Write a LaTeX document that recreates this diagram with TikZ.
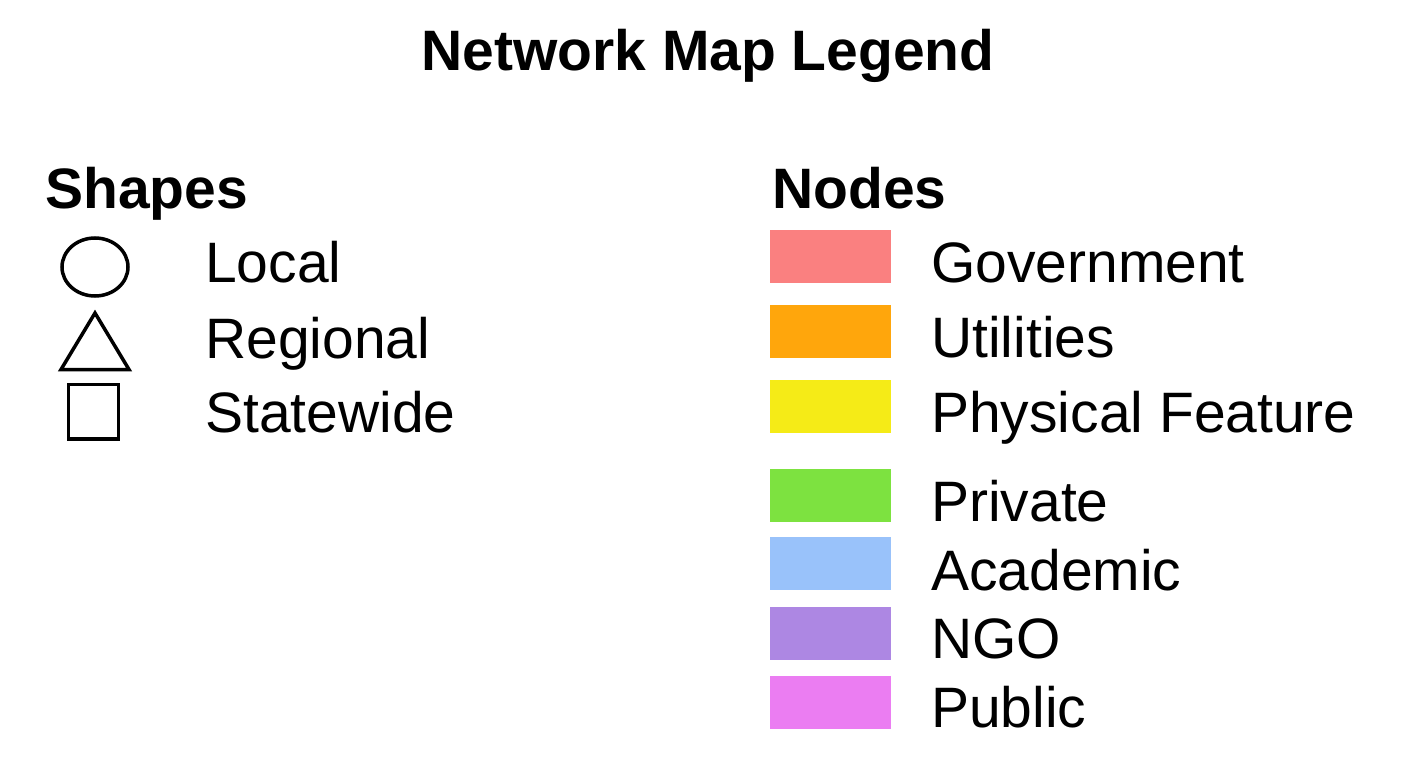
\documentclass[tikz,border=0pt]{standalone}
\usepackage{fontspec}
\setmainfont{Liberation Sans}
\definecolor{govc}{HTML}{FA8080}
\definecolor{utilc}{HTML}{FFA60C}
\definecolor{physc}{HTML}{F5EB17}
\definecolor{privc}{HTML}{7DE240}
\definecolor{acadc}{HTML}{99C2FA}
\definecolor{ngoc}{HTML}{AD87E3}
\definecolor{pubc}{HTML}{EB7DF2}
\begin{document}
\begin{tikzpicture}[x=1pt,y=-1pt,
  lbl/.style={anchor=base west,inner sep=0pt,font=\fontsize{57}{68}\selectfont},
  head/.style={anchor=base west,inner sep=0pt,font=\fontsize{57}{68}\selectfont\bfseries},
  shp/.style={draw=black,line width=3.5pt},
  swatch/.style={inner sep=0pt,minimum width=121pt,minimum height=53pt,anchor=north west}]
\useasboundingbox[fill=white] (0,0) rectangle (1418,759);
\node[anchor=base,inner sep=0pt,font=\fontsize{57}{68}\selectfont\bfseries] (title) at (708,71) {Network Map Legend};
\node[head] (shapes) at (45,209) {Shapes};
\node[head] (nodes) at (772,209) {Nodes};
% shapes
\draw[shp] (95,267) ellipse [x radius=33, y radius=29];
\draw[shp,line join=miter] (95,313) -- (129,369.5) -- (61,369.5) -- cycle;
\draw[shp] (68.5,384.5) rectangle (118.5,439);
\node[lbl] (local) at (205,283) {Local};
\node[lbl] (regional) at (205,358) {Regional};
\node[lbl] (statewide) at (205,432) {Statewide};
% swatches
\node[swatch,fill=govc] (sgov) at (770,230) {};
\node[swatch,fill=utilc] (sutil) at (770,305) {};
\node[swatch,fill=physc] (sphys) at (770,379.5) {};
\node[swatch,fill=privc] (spriv) at (770,468.5) {};
\node[swatch,fill=acadc] (sacad) at (770,537) {};
\node[swatch,fill=ngoc] (sngo) at (770,607) {};
\node[swatch,fill=pubc] (spub) at (770,676) {};
\node[lbl] (tgov) at (931,283) {Government};
\node[lbl] (tutil) at (931,357) {Utilities};
\node[lbl] (tphys) at (931,432) {Physical Feature};
\node[lbl] (tpriv) at (931,521) {Private};
\node[lbl] (tacad) at (931,590) {Academic};
\node[lbl] (tngo) at (931,658) {NGO};
\node[lbl] (tpub) at (931,727) {Public};
\end{tikzpicture}
\end{document}
